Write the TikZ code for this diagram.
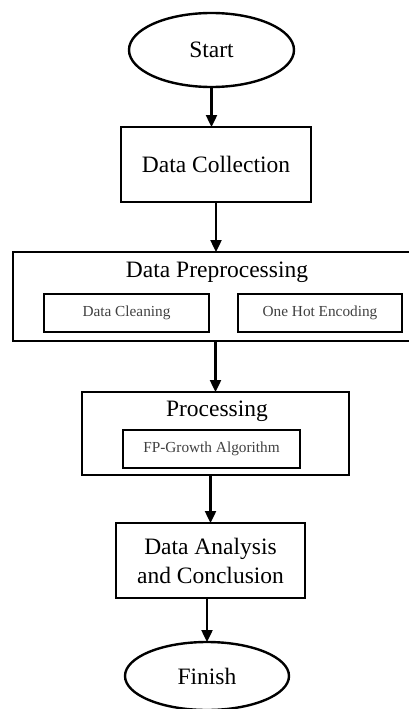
\documentclass[tikz,border=0pt]{standalone}
\usepackage{fontspec}
\setmainfont{Liberation Serif}
\usetikzlibrary{shapes.geometric,arrows.meta}
\begin{document}
\begin{tikzpicture}[x=1pt,y=1pt,
  every node/.style={inner sep=0pt, outer sep=0pt},
  bigtext/.style={font=\fontsize{23.5}{29}\selectfont, text=black},
  smalltext/.style={font=\fontsize{15.3}{18}\selectfont, text=black!75},
  oval/.style={draw, ellipse, line width=2.4pt, bigtext},
  stepbox/.style={draw, rectangle, line width=2.4pt, bigtext, align=center},
  subbox/.style={draw, rectangle, line width=2.4pt, smalltext},
  frame/.style={draw, rectangle, line width=2.4pt},
  title/.style={bigtext},
  flow/.style={line width=2.4pt, -{Triangle[width=11pt,length=12pt]}}
]
\useasboundingbox (0,0) rectangle (409,-709);
\clip (0,0) rectangle (409,-709);
\node[oval, minimum width=165, minimum height=74] (start) at (211.5,-50) {Start};
\node[stepbox, minimum width=190, minimum height=75] (dc) at (216,-164.5) {Data Collection};
\node[frame, minimum width=402, minimum height=89] (dp) at (214,-296.5) {};
\node[title] (dpt) at (217,-272) {Data Preprocessing};
\node[subbox, minimum width=165, minimum height=38] (clean) at (126.5,-313) {Data Cleaning};
\node[subbox, minimum width=164, minimum height=38] (ohe) at (320,-313) {One Hot Encoding};
\node[frame, minimum width=267, minimum height=83] (proc) at (215.5,-433.5) {};
\node[title] (proct) at (217,-411) {Processing};
\node[subbox, minimum width=177, minimum height=38] (fp) at (211.5,-449) {FP-Growth Algorithm};
\node[stepbox, minimum width=189, minimum height=75] (da) at (210.5,-560.5) {Data Analysis\\and Conclusion};
\node[oval, minimum width=164, minimum height=68] (finish) at (207,-676) {Finish};
\draw[flow] (start.south) -- (start.south |- dc.north);
\draw[flow] (dc.south) -- (dc.south |- dp.north);
\draw[flow] (proc.north |- dp.south) -- (proc.north);
\draw[flow] (da.north |- proc.south) -- (da.north);
\draw[flow] (finish.north |- da.south) -- (finish.north);
\end{tikzpicture}
\end{document}
